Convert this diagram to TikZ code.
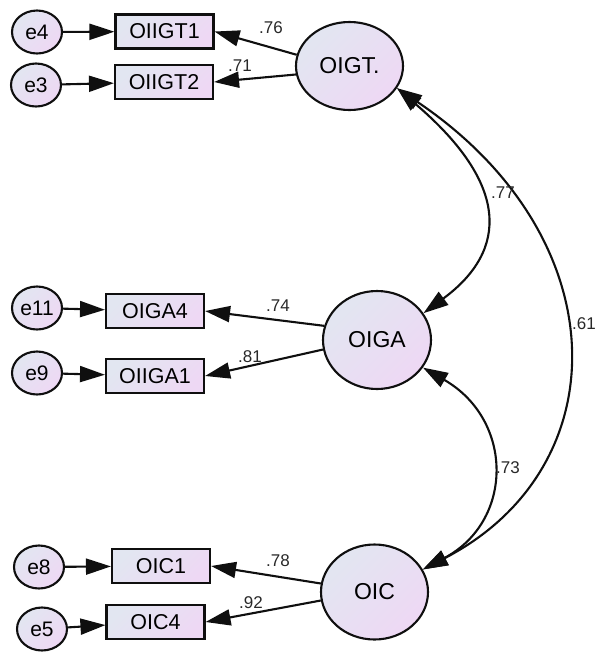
\documentclass[tikz,border=0pt]{standalone}
\usepackage{fontspec}
\setmainfont{Liberation Sans}
\usetikzlibrary{arrows.meta,shapes.geometric}
\definecolor{fillA}{RGB}{226,230,241}
\definecolor{fillB}{RGB}{238,216,244}
\definecolor{ink}{RGB}{15,15,15}
\definecolor{coefgrey}{RGB}{40,40,40}
\begin{document}
\begin{tikzpicture}[x=1pt,y=-1pt,
  shadedfill/.style={draw=ink, line width=2.1pt, top color=fillA, bottom color=fillB, shading angle=45},
  errvar/.style={shadedfill, ellipse, minimum width=50pt, minimum height=43pt, inner sep=0pt,
    font=\fontsize{21}{21}\selectfont},
  indicator/.style={shadedfill, rectangle, minimum width=98pt, minimum height=34pt, inner sep=0pt,
    font=\fontsize{21.5}{21.5}\selectfont},
  latent/.style={shadedfill, ellipse, inner sep=0pt, font=\fontsize{23}{23}\selectfont},
  tip/.tip={Triangle[length=25pt,width=16pt]},
  regpath/.style={-tip, line width=2.1pt, draw=ink},
  covpath/.style={tip-tip, line width=2.1pt, draw=ink},
  coef/.style={text=coefgrey, font=\fontsize{17}{17}\selectfont, inner sep=0pt}
]
\useasboundingbox (0,0) rectangle (595,654);

% latent factors
\node[latent, minimum width=107pt, minimum height=88pt] (oigt) at (349.5,66) {OIGT.};
\node[latent, minimum width=108pt, minimum height=98pt] (oiga) at (377,340) {OIGA};
\node[latent, minimum width=107pt, minimum height=95pt] (oic)  at (374.5,592) {OIC};

% observed indicators
\node[indicator] (oiigt1) at (164.5,31.5) {OIIGT1};
\node[indicator] (oiigt2) at (164,82)     {OIIGT2};
\node[indicator] (oiga4)  at (155,311)    {OIGA4};
\node[indicator] (oiiga1) at (155,376)    {OIIGA1};
\node[indicator] (oic1)   at (161,566)    {OIC1};
\node[indicator] (oic4)   at (155.5,622)  {OIC4};

% error terms
\node[errvar] (e4)  at (37,32)  {e4};
\node[errvar] (e3)  at (36,85)  {e3};
\node[errvar] (e11) at (37,308) {e11};
\node[errvar] (e9)  at (37,373) {e9};
\node[errvar] (e8)  at (39,567) {e8};
\node[errvar] (e5)  at (42,629) {e5};

% errors into indicators
\draw[regpath] (e4)  -- (oiigt1);
\draw[regpath] (e3)  -- (oiigt2);
\draw[regpath] (e11) -- (oiga4);
\draw[regpath] (e9)  -- (oiiga1);
\draw[regpath] (e8)  -- (oic1);
\draw[regpath] (e5)  -- (oic4);

% factor loadings
\draw[regpath] (oigt.168) -- (oiigt1.east);
\draw[regpath] (oigt.189) -- (oiigt2.east);
\draw[regpath] (oiga.165) -- (oiga4.east);
\draw[regpath] (oiga.190) -- (oiiga1.east);
\draw[regpath] (oic.171)  -- (oic1.east);
\draw[regpath] (oic.189)  -- (oic4.east);

\node[coef] (l76) at (271,28)  {.76};
\node[coef] (l71) at (240,66)  {.71};
\node[coef] (l74) at (278,306) {.74};
\node[coef] (l81) at (250,357) {.81};
\node[coef] (l78) at (278,561) {.78};
\node[coef] (l92) at (251,603) {.92};

% factor covariances
\draw[covpath] (oigt.-25) .. controls (509,184) and (509,250) .. (oiga.30);
\draw[covpath] (oiga.-31) .. controls (514,420) and (514,521) .. (oic.25);
\draw[covpath] (oigt.-25) .. controls (619,238) and (619,468) .. (oic.25);

\node[coef] (l77) at (503,193) {.77};
\node[coef] (l73) at (508,468) {.73};
\node[coef] (l61) at (584,324) {.61};
\end{tikzpicture}
\end{document}
